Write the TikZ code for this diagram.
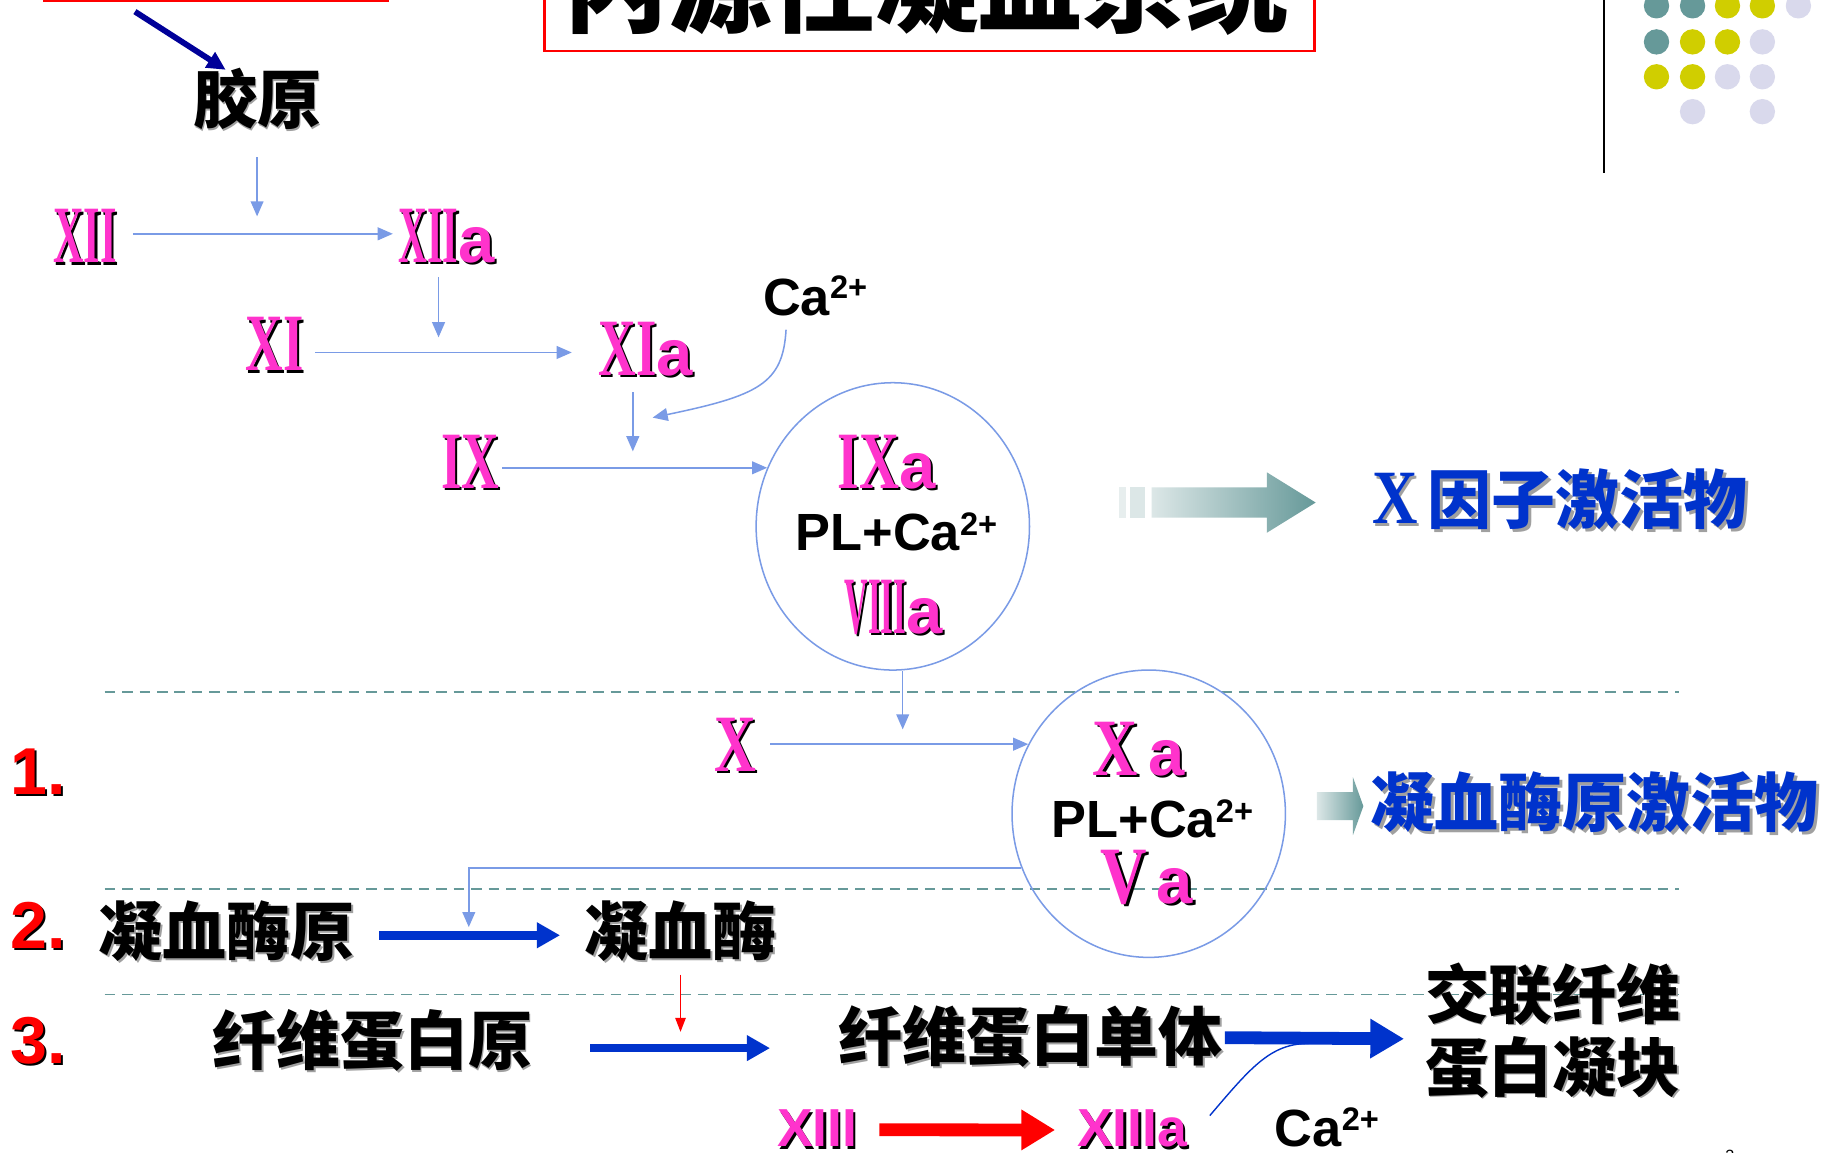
\documentclass[tikz,border=0pt]{standalone}
\usepackage{fontspec}
\usepackage{graphicx}
\usetikzlibrary{arrows.meta,shapes.geometric}
\setmainfont{Liberation Sans}
\newfontfamily\rnf{Liberation Serif}
\newfontfamily\cjk{Noto Sans CJK SC}
\definecolor{pk}{RGB}{255,51,204}
\definecolor{lb}{RGB}{122,155,230}
\definecolor{bt}{RGB}{0,51,204}
\definecolor{nv}{RGB}{0,0,153}
\definecolor{tl}{RGB}{102,153,153}
\definecolor{tlL}{RGB}{220,231,231}
\definecolor{yl}{RGB}{208,206,0}
\definecolor{lv}{RGB}{217,217,236}
\definecolor{sg}{RGB}{160,160,160}
\newcommand\shd[4][2pt]{\makebox[0pt][l]{\kern#1\raisebox{-#1}{\textcolor{#3}{#4}}}\textcolor{#2}{#4}}
\newcommand\romn[2]{{\rnf\bfseries\fontsize{70}{70}\selectfont\scalebox{#1}[1]{#2}}}
\newcommand\lta{{\bfseries\fontsize{56}{56}\selectfont a}}
\newcommand\sups[1]{\raisebox{#1}{\fontsize{28}{28}\selectfont 2+}}
\begin{document}
\begin{tikzpicture}[x=1pt,y=-1pt,
  tx/.style={inner sep=0pt,outer sep=0pt},
  cj/.style={tx,font=\cjk\bfseries\fontsize{55}{55}\selectfont},
  conn/.style={draw=lb,line width=1.3pt,-{Triangle[length=13pt,width=11pt]}},
  rconn/.style={draw=red,line width=1.1pt,-{Triangle[length=12pt,width=9pt]}},
  dl/.style={draw=tl,line width=1.3pt,dash pattern=on 9pt off 6pt},
  ring/.style={ellipse,draw=lb,line width=1.3pt,minimum width=235pt,minimum height=247pt,inner sep=0pt},
  bar1/.style={draw=bt,line width=7.5pt,-{Triangle[length=20pt,width=21pt]}},
  bar2/.style={draw=bt,line width=11pt,-{Triangle[length=29pt,width=32pt]}},
  bar3/.style={draw=red,line width=11pt,-{Triangle[length=29pt,width=33pt]}}
]
\useasboundingbox (0,0) rectangle (1568,991);
\fill[white] (0,0) rectangle (1568,991);

% decorations at the top
\draw[red,line width=2pt] (38,-60) rectangle (333,0.5);
\draw[red,line width=2pt] (468,-80) rectangle (1130,44);
\node[tx] (title) at (797,-13) {\cjk\bfseries\fontsize{89}{89}\selectfont 内源性凝血系统};
\draw[line width=1.6pt] (1379,0) -- (1379,149);
\foreach \px/\py/\c in {1424/5/tl,1455/5/tl,1485/5/yl,1515/5/yl,1546/5/lv,
  1424/36/tl,1455/36/yl,1485/36/yl,1515/36/lv,
  1424/66/yl,1455/66/yl,1485/66/lv,1515/66/lv,
  1455/96/lv,1515/96/lv}
  \fill[\c] (\px,\py) circle (10.9pt);

% dashed separators
\draw[dl] (90,595) -- (1443,595);
\draw[dl] (90,764) -- (1443,764);
\draw[dl] (90,855) -- (1443,855);

% nodes
\node[cj] (jy) at (221,86) {\shd[1.5pt]{black}{sg}{胶原}};
\node[tx] (xii) at (73,204) {\shd{pk}{black}{\romn{0.52}{XII}}};
\node[tx] (xiia) at (384,204) {\shd{pk}{black}{\romn{0.49}{XII}\lta}};
\node[tx] (xi) at (236,297) {\shd{pk}{black}{\romn{0.64}{XI}}};
\node[tx] (xia) at (555,301) {\shd{pk}{black}{\romn{0.64}{XI}\lta}};
\node[tx,anchor=base west] (ca1) at (656,271) {\bfseries\fontsize{45}{45}\selectfont Ca\sups{14pt}};
\node[tx] (ix) at (404,398) {\shd{pk}{black}{\romn{0.64}{IX}}};
\node[ring] (c1) at (767.5,452.5) {};
\node[tx] (ixa) at (762,398) {\shd{pk}{black}{\romn{0.68}{IX}\lta}};
\node[tx,anchor=base west] (pl1) at (684,473) {\bfseries\fontsize{45}{45}\selectfont PL+Ca\sups{13pt}};
\node[tx] (viiia) at (768,523) {\shd{pk}{black}{\romn{0.40}{VIII}\lta}};
\node[tx] (x) at (632,641) {\shd{pk}{black}{\romn{0.71}{X}}};
\node[ring] (c2) at (987.5,699.5) {};
\node[tx] (xa) at (979,645) {\shd{pk}{black}{\romn{0.77}{X}\hspace{9pt}\lta}};
\node[tx,anchor=base west] (pl2) at (904,720) {\bfseries\fontsize{45}{45}\selectfont PL+Ca\sups{13pt}};
\node[tx] (va) at (986,755) {\shd{pk}{black}{\romn{0.79}{V}\hspace{8pt}\lta}};

\node[cj] (xf) at (1341,430) {\shd[2.5pt]{bt}{sg}{{\rnf\bfseries\fontsize{66}{66}\selectfont\scalebox{0.82}[1]{X}}\hspace{9pt}因子激活物}};
\node[cj] (njjh) at (1371,691) {\shd[2.5pt]{bt}{sg}{凝血酶原激活物}};

\node[tx,anchor=base west] (n1) at (9,683) {\bfseries\fontsize{57}{57}\selectfont\shd{red}{black}{1.}};
\node[tx,anchor=base west] (n2) at (9,815) {\bfseries\fontsize{57}{57}\selectfont\shd{red}{black}{2.}};
\node[tx,anchor=base west] (n3) at (9,914) {\bfseries\fontsize{57}{57}\selectfont\shd{red}{black}{3.}};

\node[cj] (njmy) at (195,801) {\shd[1.5pt]{black}{sg}{凝血酶原}};
\node[cj] (njm) at (585,801) {\shd[1.5pt]{black}{sg}{凝血酶}};
\node[cj] (xwy) at (320,895) {\shd[1.5pt]{black}{sg}{纤维蛋白原}};
\node[cj] (xwd) at (886,892) {\shd[1.5pt]{black}{sg}{纤维蛋白单体}};
\node[cj] (jl1) at (1335,855) {\shd[1.5pt]{black}{sg}{交联纤维}};
\node[cj] (jl2) at (1335,918) {\shd[1.5pt]{black}{sg}{蛋白凝块}};
\node[tx,anchor=base west] (xiii) at (668,986) {\bfseries\fontsize{46}{46}\selectfont\shd{pk}{black}{XIII}};
\node[tx,anchor=base west] (xiiia) at (926,986) {\bfseries\fontsize{46}{46}\selectfont\shd{pk}{black}{XIIIa}};
\node[tx,anchor=base west] (ca2) at (1096,986) {\bfseries\fontsize{45}{45}\selectfont Ca\sups{14pt}};
\node[tx,anchor=north] (pg) at (1487,988.5) {\fontsize{14}{14}\selectfont 3};

% gradient arrows
\fill[tlL!70!white] (962,419) rectangle (968,445);
\fill[tlL] (971,419) rectangle (984,445);
\shade[left color=tlL,right color=tl] (990,419) -- (1089,419) -- (1089,406) -- (1131,432) -- (1089,458) -- (1089,445) -- (990,445) -- cycle;
\shade[left color=tlL,right color=tl] (1132,681) -- (1163,681) -- (1163,668) -- (1172,693) -- (1163,718) -- (1163,705) -- (1132,705) -- cycle;

% connectors
\coordinate (nv0) at (116,10);
\coordinate (nv1) at (194,60);
\draw[draw=nv,line width=5pt,-{Triangle[length=16pt,width=15pt]}] (nv0) -- (nv1);
\coordinate (t1) at (221,186);
\draw[conn,shorten <=22pt] (jy.south) -- (t1);
\draw[conn,shorten <=14pt,shorten >=5pt] ([yshift=3pt]xii.east) -- ([yshift=3pt]xiia.west);
\coordinate (t2) at (377,290);
\draw[conn,shorten <=10pt] (xiia.south -| t2) -- (t2);
\draw[conn,shorten <=10pt,shorten >=23pt] ([yshift=-6pt]xi.east) -- ([yshift=-2pt]xia.west);
\coordinate (t3) at (544,388);
\draw[conn,shorten <=12pt] (xia.south -| t3) -- (t3);
\coordinate (t4) at (561,359);
\draw[conn] ([shift={(-25,12)}]ca1.south) .. controls (673,330) and (652,340) .. (t4);
\path (c1.155) coordinate (c1i);
\draw[conn,shorten <=3pt] (ix.east |- c1i) -- (c1i);
\coordinate (t5) at (776,627);
\draw[conn] (c1.south -| t5) -- (t5);
\path (c2.150) coordinate (c2i);
\draw[conn,shorten <=12pt] (x.east |- c2i) -- (c2i);
\coordinate (k2) at (403,797);
\draw[conn] (c2.203) -| (k2);
\draw[bar1,shorten <=21pt,shorten >=21pt] ([yshift=-3pt]njmy.east) -- ([yshift=-3pt]njm.west);
\coordinate (t6) at (585,887);
\draw[rconn,shorten <=10pt] (njm.south) -- (t6);
\draw[bar1,shorten <=50pt,shorten >=59pt] ([yshift=-6pt]xwy.east) -- ([yshift=-9pt]xwd.west);
\coordinate (t7) at (1207,893);
\draw[bar2,shorten <=2pt] (xwd.east) -- (t7);
\draw[bar3,shorten <=19pt,shorten >=19pt] (xiii.east) -- (xiiia.west);
\coordinate (t8) at (1040,959);
\coordinate (t9) at (1125,897);
\draw[draw=bt,line width=1.2pt] (t8) .. controls (1075,918) and (1092,897) .. (t9);
\end{tikzpicture}
\end{document}
